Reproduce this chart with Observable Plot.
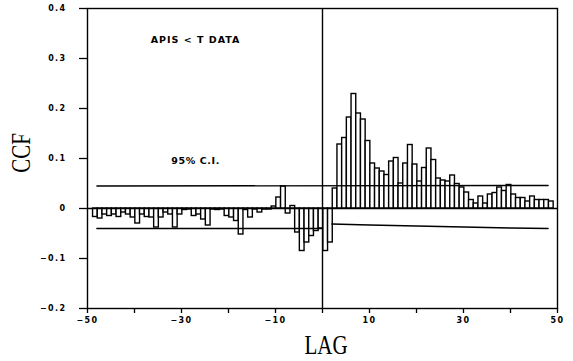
<!DOCTYPE html>
<html>
<head>
<meta charset="utf-8">
<script src="https://cdn.jsdelivr.net/npm/d3@7"></script>
<script src="https://cdn.jsdelivr.net/npm/@observablehq/plot@0.6"></script>
<style>
  html, body { margin: 0; padding: 0; background: #fff; }
  #chart svg { display: block; }
</style>
</head>
<body>
<div id="chart"></div>
<script>
// Lags and cross-correlation values
const lags = d3.range(-48, 50);
const ccf = [
  -0.017, -0.020, -0.012, -0.015, -0.012, -0.017, -0.008, -0.012, -0.018, -0.030, // -48..-39
  -0.012, -0.017, -0.018, -0.038, -0.018, -0.008, -0.012, -0.038, -0.012, -0.003, // -38..-29
  -0.002, -0.015, -0.012, -0.022, -0.034, -0.002, -0.003, -0.002, -0.015, -0.018, // -28..-19
  -0.025, -0.052, -0.003, -0.018, -0.002, -0.008, -0.002, -0.002,  0.004,  0.022, // -18..-9
   0.044, -0.010,  0.005, -0.048, -0.085, -0.068, -0.055, -0.045, -0.040, -0.085, // -8..1
  -0.068,  0.040,  0.128,  0.141,  0.182,  0.229,  0.190,  0.178,  0.135,  0.090, // 2..11
   0.080,  0.074,  0.067,  0.094,  0.101,  0.050,  0.090,  0.127,  0.088,  0.054, // 12..21
   0.081,  0.120,  0.097,  0.060,  0.056,  0.054,  0.066,  0.049,  0.042,  0.032, // 22..31
   0.017,  0.010,  0.024,  0.010,  0.028,  0.031,  0.042,  0.035,  0.047,  0.028, // 32..41
   0.021,  0.021,  0.014,  0.024,  0.017,  0.017,  0.017,  0.014                  // 42..49
];

// 95% confidence limits
const ciUpperLag = [-48, 48];
const ciUpper = [0.045, 0.046];
const ciLowerNegLag = [-48, 0];
const ciLowerNeg = [-0.040, -0.040];
const ciLowerPosLag = [2, 10, 20, 30, 40, 48];
const ciLowerPos = [-0.031, -0.033, -0.035, -0.037, -0.039, -0.040];

// Axis ticks
const xTicks = d3.range(-50, 51, 10);
const xLabels = [-50, -30, -10, 10, 30, 50];
const yTicks = [-0.2, -0.1, 0, 0.1, 0.2, 0.3, 0.4];

// Texts
const title = "APIS < T DATA";
const ciLabel = "95% C.I.";
const xTitle = "LAG";
const yTitle = "CCF";

const bars = lags.map((lag, i) => ({lag, v: ccf[i]}));
const ciLines = [
  ...ciUpperLag.map((lag, i) => ({lag, v: ciUpper[i], k: "u"})),
  ...ciLowerNegLag.map((lag, i) => ({lag, v: ciLowerNeg[i], k: "ln"})),
  ...ciLowerPosLag.map((lag, i) => ({lag, v: ciLowerPos[i], k: "lp"}))
];

const W = 573, H = 361;
const M = {left: 87, right: 16, top: 8, bottom: 53};
const tickFont = "DejaVu Sans, sans-serif";
const serif = "Liberation Serif, serif";
const fmtY = d => d === 0 ? "0" : d3.format(".1f")(d).replace("-", "\u2212");
const fmtX = d => xLabels.includes(d) ? String(d).replace("-", "\u2212") : "";

const chart = Plot.plot({
  width: W,
  height: H,
  marginLeft: M.left,
  marginRight: M.right,
  marginTop: M.top,
  marginBottom: M.bottom,
  style: {background: "#fff", color: "#000"},
  x: {domain: [-50, 50]},
  y: {domain: [-0.2, 0.4]},
  marks: [
    Plot.rect(bars, {
      x1: d => d.lag - 0.5, x2: d => d.lag + 0.5,
      y1: 0, y2: "v",
      dx: -1.5,
      fill: "#fff", stroke: "#000", strokeWidth: 1.4
    }),
    Plot.line(ciLines, {x: "lag", y: "v", z: "k", stroke: "#000", strokeWidth: 1.4}),
    Plot.ruleY([0], {stroke: "#000", strokeWidth: 1.4}),
    Plot.ruleX([0], {stroke: "#000", strokeWidth: 1.4}),
    Plot.frame({stroke: "#000", strokeWidth: 1.4}),
    Plot.axisY({
      ticks: yTicks, tickFormat: fmtY, tickSize: 8, tickPadding: 13,
      fontSize: 8, fontWeight: "bold", fontFamily: tickFont, label: null,
      strokeWidth: 1.3
    }),
    Plot.axisX({
      ticks: xTicks, tickFormat: fmtX, tickSize: 5, tickPadding: 4,
      fontSize: 8, fontWeight: "bold", fontFamily: tickFont, label: null,
      strokeWidth: 1.3
    }),
    Plot.text([title], {
      x: -27, y: 0.337, text: d => d,
      fontSize: 9.5, fontWeight: "bold", fontFamily: tickFont
    }),
    Plot.text([ciLabel], {
      x: -27, y: 0.095, text: d => d,
      fontSize: 9.5, fontWeight: "bold", fontFamily: tickFont
    }),
    Plot.text([xTitle], {
      frameAnchor: "bottom", text: d => d,
      fontSize: 21, fontFamily: serif
    }),
    Plot.text([yTitle], {
      frameAnchor: "left", text: d => d,
      fontSize: 21, fontFamily: serif
    })
  ]
});

// Styling touches: wide plotter-like lettering and tall serif axis titles
const svg = d3.select(chart);
svg.selectAll('g[aria-label="y-axis tick label"] text, g[aria-label="x-axis tick label"] text')
  .style("letter-spacing", "1.4px");
svg.selectAll("text").each(function () {
  const t = this.textContent;
  const el = d3.select(this);
  if (t === title) el.style("letter-spacing", "1px");
  if (t === ciLabel) el.style("letter-spacing", "0.6px");
  if (t === xTitle || t === yTitle) {
    const isY = t === yTitle;
    const cx = isY ? 20 : (M.left + W - M.right) / 2 + 4;
    const cy = isY ? 153 : H - M.bottom + 37;
    if (this.parentNode && this.parentNode.getAttribute("transform")) {
      this.parentNode.removeAttribute("transform");
    }
    el.attr("x", null).attr("y", null).attr("dx", null).attr("dy", "0.35em")
      .attr("text-anchor", "middle")
      .attr("transform", `translate(${cx},${cy})` + (isY ? " rotate(-90)" : "") + (isY ? " scale(1,1.35)" : " scale(1,1.25)"));
  }
});
document.getElementById("chart").appendChild(chart);
</script>
</body>
</html>
